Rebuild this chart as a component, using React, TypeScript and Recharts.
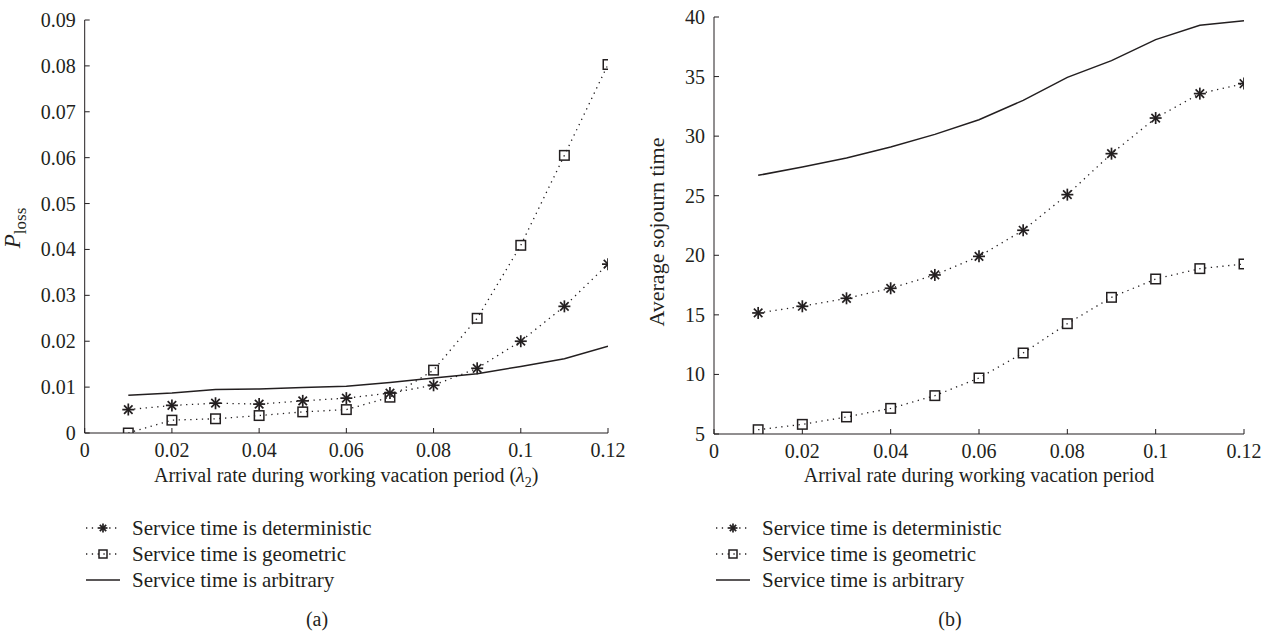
import React from "react";
import { LineChart, Line, XAxis, YAxis } from "recharts";

const xs = [0.01, 0.02, 0.03, 0.04, 0.05, 0.06, 0.07, 0.08, 0.09, 0.1, 0.11, 0.12];
const xTicks = [0, 0.02, 0.04, 0.06, 0.08, 0.1, 0.12];

// (a) loss probability
const lossDet = [0.0051, 0.006, 0.0065, 0.0063, 0.007, 0.0076, 0.0087, 0.0104, 0.0141, 0.02, 0.0276, 0.0368];
const lossGeo = [0.0, 0.0028, 0.0031, 0.0038, 0.0046, 0.0051, 0.0078, 0.0137, 0.025, 0.0409, 0.0605, 0.0803];
const lossArb = [0.0082, 0.0087, 0.0095, 0.0096, 0.0099, 0.0102, 0.011, 0.012, 0.0129, 0.0145, 0.0162, 0.0189];
const lossTicks = [0, 0.01, 0.02, 0.03, 0.04, 0.05, 0.06, 0.07, 0.08, 0.09];

// (b) average sojourn time
const sojDet = [15.16, 15.72, 16.39, 17.23, 18.35, 19.91, 22.1, 25.09, 28.53, 31.52, 33.57, 34.41];
const sojGeo = [5.36, 5.81, 6.43, 7.15, 8.22, 9.7, 11.8, 14.26, 16.47, 18.01, 18.88, 19.27];
const sojArb = [26.71, 27.41, 28.17, 29.09, 30.15, 31.38, 33.0, 34.93, 36.34, 38.1, 39.3, 39.69];
const sojTicks = [5, 10, 15, 20, 25, 30, 35, 40];

const legendLabels = [
  "Service time is deterministic",
  "Service time is geometric",
  "Service time is arbitrary",
];

const INK = "#231f20";
const FONT = "'Liberation Serif', 'DejaVu Serif', serif";
const FS = 20;
const TL = 5;

const buildRows = (det: number[], geo: number[], arb: number[]) =>
  xs.map((x, i) => ({ x, det: det[i], geo: geo[i], arb: arb[i] }));

const Star = ({ cx, cy, r = 6 }: { cx: number; cy: number; r?: number }) => {
  const d = r * 0.7071;
  return (
    <g stroke={INK} strokeWidth={1.7}>
      <line x1={cx - r} y1={cy} x2={cx + r} y2={cy} />
      <line x1={cx} y1={cy - r} x2={cx} y2={cy + r} />
      <line x1={cx - d} y1={cy - d} x2={cx + d} y2={cy + d} />
      <line x1={cx - d} y1={cy + d} x2={cx + d} y2={cy - d} />
    </g>
  );
};

const Square = ({ cx, cy, s = 9.5 }: { cx: number; cy: number; s?: number }) => (
  <rect x={cx - s / 2} y={cy - s / 2} width={s} height={s} fill="none" stroke={INK} strokeWidth={1.5} />
);

const starDot = (p: any) => <Star key={`s${p.index}`} cx={p.cx} cy={p.cy} />;
const squareDot = (p: any) => <Square key={`q${p.index}`} cx={p.cx} cy={p.cy} />;

const BottomTick = (p: any) => (
  <g>
    <line x1={p.x} y1={p.y} x2={p.x} y2={p.y - TL} stroke={INK} />
    <text x={p.x} y={p.y + 24} textAnchor="middle" fontSize={FS} fontFamily={FONT} fill={INK}>
      {String(p.payload.value)}
    </text>
  </g>
);

const LeftTick = (p: any) => (
  <g>
    <line x1={p.x} y1={p.y} x2={p.x + TL} y2={p.y} stroke={INK} />
    <text x={p.x - 9} y={p.y} dy="0.35em" textAnchor="end" fontSize={FS} fontFamily={FONT} fill={INK}>
      {String(p.payload.value)}
    </text>
  </g>
);

const TopTick = (p: any) => <line x1={p.x} y1={p.y} x2={p.x} y2={p.y + TL} stroke={INK} />;
const RightTick = (p: any) => <line x1={p.x} y1={p.y} x2={p.x - TL} y2={p.y} stroke={INK} />;

interface PanelProps {
  rows: { x: number; det: number; geo: number; arb: number }[];
  yDomain: [number, number];
  yTicks: number[];
  yLabel: React.ReactNode;
  left: number;
  top: number;
  axisWidth: number;
  right: number;
  xHeight: number;
}

function Panel({ rows, yDomain, yTicks, yLabel, left, top, axisWidth, right, xHeight }: PanelProps) {
  return (
    <div style={{ position: "absolute", left, top: 0 }}>
      <LineChart width={640} height={470} data={rows} margin={{ top, right, bottom: 0, left: 0 }}>
        <XAxis
          dataKey="x"
          type="number"
          domain={[0, 0.12]}
          ticks={xTicks}
          interval={0}
          allowDataOverflow
          height={xHeight}
          tickSize={0}
          tickMargin={0}
          tickLine={false}
          stroke={INK}
          tick={BottomTick}
        />
        <XAxis
          xAxisId="top"
          orientation="top"
          type="number"
          domain={[0, 0.12]}
          ticks={xTicks}
          interval={0}
          allowDataOverflow
          height={0}
          tickSize={0}
          tickMargin={0}
          tickLine={false}
          stroke={INK}
          tick={TopTick}
        />
        <YAxis
          type="number"
          domain={yDomain}
          ticks={yTicks}
          interval={0}
          allowDataOverflow
          width={axisWidth}
          tickSize={0}
          tickMargin={0}
          tickLine={false}
          stroke={INK}
          tick={LeftTick}
          label={{ content: () => yLabel }}
        />
        <YAxis
          yAxisId="right"
          orientation="right"
          type="number"
          domain={yDomain}
          ticks={yTicks}
          interval={0}
          allowDataOverflow
          width={0}
          tickSize={0}
          tickMargin={0}
          tickLine={false}
          stroke={INK}
          tick={RightTick}
        />
        <Line
          dataKey="arb"
          type="linear"
          stroke={INK}
          strokeWidth={1.5}
          dot={false}
          activeDot={false}
          isAnimationActive={false}
        />
        <Line
          dataKey="det"
          type="linear"
          stroke={INK}
          strokeWidth={1.3}
          strokeDasharray="1.3 4.5"
          dot={starDot}
          activeDot={false}
          isAnimationActive={false}
        />
        <Line
          dataKey="geo"
          type="linear"
          stroke={INK}
          strokeWidth={1.3}
          strokeDasharray="1.3 4.5"
          dot={squareDot}
          activeDot={false}
          isAnimationActive={false}
        />
      </LineChart>
    </div>
  );
}

function Legend({ left, top }: { left: number; top: number }) {
  return (
    <div style={{ position: "absolute", left, top }}>
      {legendLabels.map((label, i) => (
        <div key={label} style={{ display: "flex", alignItems: "center", height: 26 }}>
          <svg width={48} height={20}>
            <line
              x1={2}
              y1={10}
              x2={36}
              y2={10}
              stroke={INK}
              strokeWidth={i === 2 ? 1.5 : 1.3}
              strokeDasharray={i === 2 ? undefined : "1.3 4.5"}
            />
            {i === 0 && <Star cx={19} cy={10} r={4.5} />}
            {i === 1 && <Square cx={19} cy={10} s={8} />}
          </svg>
          <span style={{ fontFamily: FONT, fontSize: 21, color: INK, lineHeight: "26px" }}>{label}</span>
        </div>
      ))}
    </div>
  );
}

const textStyle: React.CSSProperties = {
  position: "absolute",
  fontFamily: FONT,
  fontSize: FS,
  color: INK,
  textAlign: "center",
  whiteSpace: "nowrap",
};

export default function App() {
  const lossRows = buildRows(lossDet, lossGeo, lossArb);
  const sojRows = buildRows(sojDet, sojGeo, sojArb);

  const ploss = (
    <text
      x={20}
      y={228}
      transform="rotate(-90 20 228)"
      textAnchor="middle"
      fontFamily={FONT}
      fontSize={FS + 3}
      fill={INK}
    >
      <tspan fontStyle="italic">P</tspan>
      <tspan fontSize={FS - 3} dy={6}>loss</tspan>
    </text>
  );
  const sojLabel = (
    <text
      x={34}
      y={232}
      transform="rotate(-90 34 232)"
      textAnchor="middle"
      fontFamily={FONT}
      fontSize={22}
      fill={INK}
    >
      Average sojourn time
    </text>
  );

  return (
    <div style={{ position: "absolute", left: 0, top: 0, width: 1270, height: 637, background: "#fff", overflow: "hidden" }}>
      <Panel
        rows={lossRows}
        yDomain={[0, 0.09]}
        yTicks={lossTicks}
        yLabel={ploss}
        left={0}
        top={20}
        axisWidth={84.7}
        right={32}
        xHeight={37}
      />
      <Panel
        rows={sojRows}
        yDomain={[5, 40]}
        yTicks={sojTicks}
        yLabel={sojLabel}
        left={630}
        top={17}
        axisWidth={84}
        right={26}
        xHeight={36}
      />
      <div style={{ ...textStyle, left: 84.7, width: 523, top: 464 }}>
        Arrival rate during working vacation period (<i>λ</i>
        <sub style={{ fontSize: 14 }}>2</sub>)
      </div>
      <div style={{ ...textStyle, left: 714, width: 530, top: 464 }}>
        Arrival rate during working vacation period
      </div>
      <Legend left={84} top={515} />
      <Legend left={714} top={515} />
      <div style={{ ...textStyle, left: 217, width: 200, top: 608 }}>(a)</div>
      <div style={{ ...textStyle, left: 850, width: 200, top: 608 }}>(b)</div>
    </div>
  );
}
